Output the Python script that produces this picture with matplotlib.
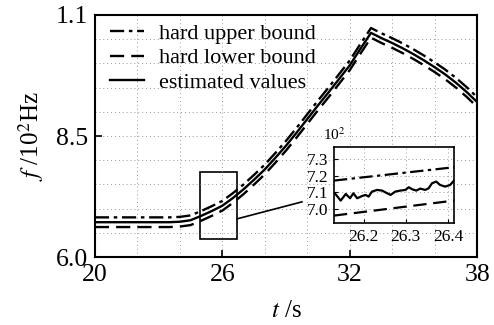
import matplotlib
matplotlib.use("Agg")
import matplotlib.pyplot as plt
import numpy as np

plt.rcParams['font.family'] = ['Liberation Serif', 'DejaVu Serif']
plt.rcParams['mathtext.fontset'] = 'stix'

# main curve (x10^2 Hz)
t = [20, 22, 23.5, 24, 24.5, 25, 25.5, 26, 26.5, 27, 27.5, 28, 28.5, 29, 29.5,
     30, 30.5, 31, 31.5, 32, 32.5, 33, 33.5, 34, 34.5, 35, 35.5, 36, 36.5, 37,
     37.5, 38]
est = [6.72, 6.72, 6.72, 6.73, 6.76, 6.85, 6.95, 7.06, 7.22, 7.40, 7.60, 7.81,
       8.05, 8.30, 8.57, 8.85, 9.13, 9.40, 9.68, 9.96, 10.30, 10.63, 10.52,
       10.42, 10.31, 10.19, 10.06, 9.92, 9.77, 9.60, 9.41, 9.20]
upper = [v + 0.1 for v in est]
lower = [v - 0.1 for v in est]

# inset (zoomed) data
ti = [26.132, 26.146, 26.158, 26.168, 26.176, 26.185, 26.197, 26.205, 26.212,
      26.220, 26.232, 26.244, 26.256, 26.264, 26.275, 26.287, 26.299, 26.307,
      26.315, 26.325, 26.334, 26.346, 26.354, 26.362, 26.372, 26.381, 26.393,
      26.405, 26.414]
esti = [7.094, 7.050, 7.090, 7.064, 7.094, 7.064, 7.078, 7.084, 7.074, 7.104,
        7.114, 7.110, 7.094, 7.084, 7.104, 7.110, 7.114, 7.130, 7.118, 7.110,
        7.122, 7.114, 7.124, 7.154, 7.164, 7.144, 7.134, 7.144, 7.170]
ti_b = [26.13, 26.414]
upper_i = [7.17, 7.25]
lower_i = [6.96, 7.05]

fig = plt.figure(figsize=(4.94, 3.25), dpi=100)
ax = fig.add_axes([0.192, 0.209, 0.774, 0.745])

ax.plot(t, upper, color='k', lw=1.7, ls=(0, (6, 2, 1.5, 2)), label='hard upper bound')
ax.plot(t, lower, color='k', lw=1.7, ls=(0, (6, 3)), label='hard lower bound')
ax.plot(t, est, color='k', lw=1.7, ls='-', label='estimated values')

ax.set_xlim(20, 38)
ax.set_ylim(6.0, 11.0)
ax.set_xticks([20, 26, 32, 38])
ax.set_xticks(np.arange(20, 38.1, 2), minor=True)
ax.set_yticks([6.0, 8.5, 11.0])
ax.set_yticklabels(['6.0', '8.5', '1.1'])
ax.set_yticks(np.arange(6.0, 11.01, 0.5), minor=True)
ax.grid(True, which='both', ls=(0, (1, 3)), lw=0.7, color='#999999')
ax.tick_params(which='major', direction='in', length=5, width=1.2, labelsize=18.5)
ax.tick_params(axis='x', pad=5)
ax.tick_params(axis='y', pad=5)
ax.tick_params(which='minor', length=0)
for s in ax.spines.values():
    s.set_linewidth(1.5)
ax.set_xlabel(r'$t$ /s', fontsize=18, labelpad=10)
ax.set_ylabel(r'$f$ /10$^2$Hz', fontsize=18, labelpad=7)

leg = ax.legend(loc='upper left', bbox_to_anchor=(0.0, 1.03), frameon=False,
                fontsize=16, handlelength=1.5, handletextpad=0.7,
                labelspacing=0.18, borderaxespad=0.3)

# zoom rectangle and connector
ax.add_patch(plt.Rectangle((24.95, 6.37), 1.75, 1.39, fill=False, ec='k', lw=1.2))
ax.plot([26.7, 29.75], [6.79, 7.14], color='k', lw=1.2)

# inset
axi = fig.add_axes([0.676, 0.314, 0.243, 0.234])
axi.plot(ti_b, upper_i, color='k', lw=1.6, ls=(0, (6, 2, 1.5, 2)))
axi.plot(ti_b, lower_i, color='k', lw=1.6, ls=(0, (6, 3)))
axi.plot(ti, esti, color='k', lw=1.6)
axi.set_xlim(26.13, 26.414)
axi.set_ylim(6.916, 7.372)
axi.set_xticks([26.2, 26.3, 26.4])
axi.set_yticks([7.0, 7.1, 7.2, 7.3])
axi.set_yticklabels(['7.0', '7.1', '7.2', '7.3'])
axi.grid(True, ls=(0, (1, 3)), lw=0.7, color='#999999')
axi.tick_params(direction='in', length=3, labelsize=12.5, pad=4)
for s in axi.spines.values():
    s.set_linewidth(1.2)
axi.text(0.0, 1.05, r'10$^2$', transform=axi.transAxes, fontsize=11,
         ha='center', va='bottom')

fig.savefig('out.png', dpi=100)
